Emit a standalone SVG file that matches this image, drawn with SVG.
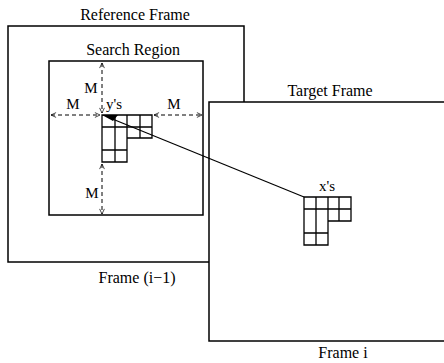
<svg xmlns="http://www.w3.org/2000/svg" width="444" height="363" viewBox="0 0 444 363">
<defs>
<style>
text{font-family:"Liberation Serif","Times New Roman",serif;font-size:16px;fill:#000;text-anchor:middle}
text.s{font-size:15px}
.frame{fill:#fff;stroke:#000;stroke-width:1.5}
.dash{fill:none;stroke:#000;stroke-width:1;stroke-dasharray:4,3}
.grid{fill:none;stroke:#000;stroke-width:1.3}
.ln{fill:none;stroke:#000;stroke-width:1.2}
</style>
<marker id="oa" viewBox="0 0 10 10" refX="9.5" refY="5" markerWidth="8" markerHeight="6" orient="auto-start-reverse" markerUnits="userSpaceOnUse">
<path d="M1,1 L9.5,5 L1,9" fill="none" stroke="#000" stroke-width="1.2"/>
</marker>
</defs>
<g id="reference-frame">
<rect class="frame" x="8" y="26" width="236" height="236"/>
<text x="135" y="20">Reference Frame</text>
<text x="137" y="283">Frame (i−1)</text>
</g>
<g id="search-region">
<rect class="frame" x="49" y="61" width="154" height="154"/>
<text x="133" y="55">Search Region</text>
</g>
<g id="ys-block">
<path class="grid" d="M102,115 H152 V138 H127 V162 H102 Z M102,127 H152 M102,150 H127 M115,115 V162 M127,115 V138 M140,115 V138"/>
<text class="s" x="114" y="109">y's</text>
</g>
<g id="connectors">
<line class="dash" x1="51" y1="115" x2="100" y2="115" marker-start="url(#oa)" marker-end="url(#oa)"/>
<line class="dash" x1="154" y1="115" x2="202" y2="115" marker-start="url(#oa)" marker-end="url(#oa)"/>
<line class="dash" x1="102" y1="63" x2="102" y2="113" marker-start="url(#oa)" marker-end="url(#oa)"/>
<line class="dash" x1="102" y1="164" x2="102" y2="214" marker-start="url(#oa)" marker-end="url(#oa)"/>
<text class="s" x="73" y="109">M</text>
<text class="s" x="174" y="109">M</text>
<text class="s" x="91" y="93">M</text>
<text class="s" x="92" y="198">M</text>
</g>
<g id="target-frame">
<rect class="frame" x="209" y="102" width="240" height="239"/>
<text x="330" y="96">Target Frame</text>
<text x="343" y="358">Frame i</text>
</g>
<g id="xs-block">
<path class="grid" d="M304,197 H351 V221 H328 V245 H304 Z M304,209 H351 M304,233 H328 M316,197 V245 M328,197 V221 M339,197 V221"/>
<text class="s" x="327" y="191">x's</text>
</g>
<g id="match-line">
<line class="ln" x1="304" y1="197" x2="110" y2="118"/>
<polygon points="102,115 118,115 113,121" fill="#000"/>
</g>
</svg>
